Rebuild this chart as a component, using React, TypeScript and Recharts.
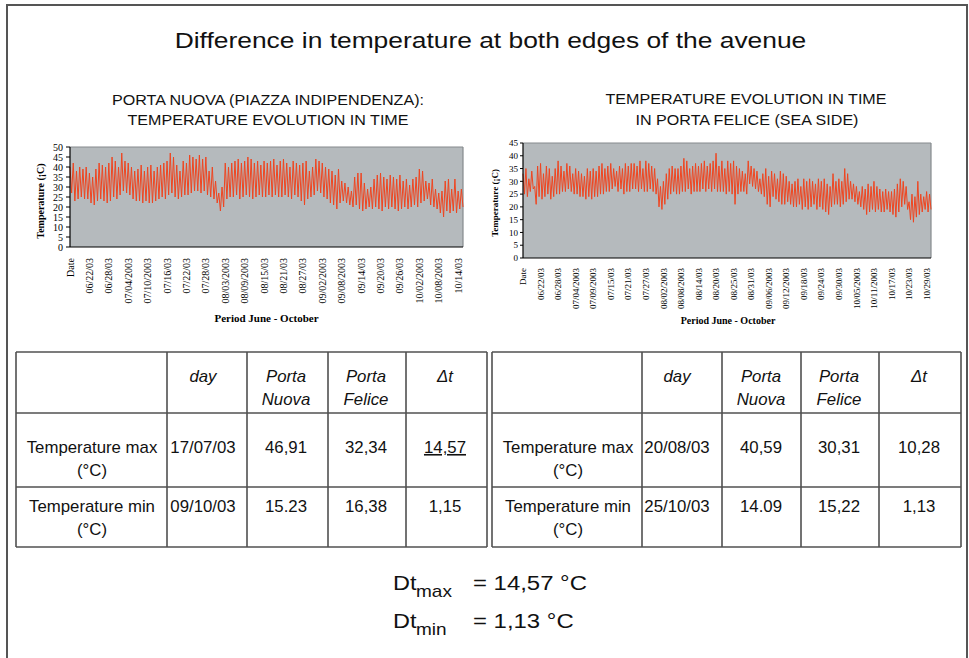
import React from 'react';
import { LineChart, Line, XAxis, YAxis, CartesianGrid, ReferenceLine } from 'recharts';

// ---------- data ----------
// Porta Nuova: daily maximum and minimum temperatures (°C), 16 Jun -> 15 Oct
const leftMax = [
  40, 42, 38, 40, 39, 40,
  37, 35, 39, 42, 41, 40,
  42, 45, 43, 40, 47, 43,
  42, 40, 38, 39, 41, 38,
  40, 41, 38, 40, 41, 42,
  43, 47, 45, 41, 38, 43,
  42, 46, 45, 44, 46, 44,
  45, 38, 40, 33, 27, 30,
  42, 40, 42, 43, 44, 42,
  43, 45, 44, 42, 43, 41,
  43, 42, 43, 44, 41, 43,
  44, 42, 40, 43, 42, 41,
  42, 43, 38, 40, 44, 43,
  42, 40, 39, 38, 36, 39,
  33, 32, 30, 28, 35, 37,
  37, 32, 29, 30, 34, 36,
  37, 35, 34, 36, 35, 34,
  36, 33, 34, 31, 34, 35,
  39, 38, 33, 32, 34, 29,
  27, 28, 33, 34, 29, 34,
  28, 29,
];
const leftMin = [
  27, 23, 24, 25, 24, 24,
  22, 21, 23, 24, 23, 22,
  23, 25, 24, 26, 28, 27,
  26, 24, 23, 23, 22, 23,
  22, 22, 23, 24, 25, 24,
  26, 27, 25, 24, 25, 26,
  26, 27, 28, 28, 27, 28,
  26, 25, 24, 22, 18, 20,
  24, 25, 25, 26, 24, 25,
  26, 25, 24, 25, 26, 25,
  25, 26, 25, 26, 25, 25,
  26, 25, 24, 26, 25, 23,
  21, 24, 25, 26, 28, 27,
  25, 24, 22, 21, 19, 22,
  23, 22, 21, 20, 21, 19,
  18, 19, 20, 19, 20, 19,
  18, 20, 19, 20, 19, 18,
  19, 20, 19, 20, 21, 20,
  22, 23, 24, 21, 20, 19,
  17, 15, 18, 17, 18, 17,
  19, 20,
];

// Porta Felice: daily maximum and minimum temperatures (°C), 16 Jun -> 2 Nov
const rightMax = [
  33, 35, 31, 34, 28, 36,
  37, 33, 36, 35, 32, 35,
  38, 36, 34, 37, 36, 33,
  35, 34, 33, 32, 35, 34,
  35, 34, 36, 37, 35, 36,
  37, 35, 34, 36, 35, 37,
  36, 37, 37, 36, 38, 35,
  38, 37, 36, 35, 31, 28,
  30, 33, 35, 36, 35, 35,
  36, 39, 38, 35, 36, 37,
  36, 37, 38, 36, 37, 38,
  41, 36, 38, 35, 38, 37,
  38, 36, 35, 34, 33, 38,
  36, 35, 34, 31, 33, 35,
  32, 34, 33, 31, 34, 33,
  32, 30, 29, 30, 31, 28,
  31, 30, 31, 30, 29, 31,
  30, 31, 29, 28, 33, 30,
  31, 30, 35, 33, 30, 29,
  28, 26, 28, 27, 29, 28,
  30, 28, 27, 26, 27, 26,
  26, 27, 29, 31, 30, 28,
  22, 25, 24, 30, 25, 24,
  26, 25,
];
const rightMin = [
  25, 24, 26, 27, 21, 24,
  23, 24, 25, 23, 24, 25,
  25, 26, 26, 27, 26, 25,
  25, 24, 24, 23, 24, 23,
  24, 24, 25, 25, 26, 26,
  27, 28, 26, 27, 25, 26,
  26, 27, 27, 26, 27, 26,
  26, 27, 26, 25, 20, 19,
  21, 23, 25, 26, 25, 25,
  26, 26, 27, 25, 26, 26,
  26, 27, 26, 27, 26, 27,
  26, 26, 26, 25, 26, 25,
  21, 25, 26, 26, 25, 29,
  28, 27, 26, 25, 24, 21,
  20, 24, 23, 22, 21, 21,
  22, 21, 20, 20, 21, 19,
  20, 19, 20, 21, 19, 20,
  19, 18, 17, 20, 21, 21,
  20, 21, 22, 23, 23, 22,
  21, 20, 19, 17, 18, 19,
  18, 19, 18, 18, 19, 18,
  17, 16, 18, 20, 21, 19,
  15, 14, 16, 17, 18, 19,
  18, 19,
];

const leftDateLabels = [
  'Date', '06/22/03', '06/28/03', '07/04/2003', '07/10/2003', '07/16/03', '07/22/03',
  '07/28/03', '08/03/2003', '08/09/2003', '08/15/03', '08/21/03', '08/27/03',
  '09/02/2003', '09/08/2003', '09/14/03', '09/20/03', '09/26/03', '10/02/2003',
  '10/08/2003', '10/14/03',
];
const rightDateLabels = [
  'Date', '06/22/03', '06/28/03', '07/04/2003', '07/09/2003', '07/15/03', '07/21/03',
  '07/27/03', '08/02/2003', '08/08/2003', '08/14/03', '08/20/03', '08/25/03', '08/31/03',
  '09/06/2003', '09/12/2003', '09/18/03', '09/24/03', '09/30/03', '10/05/2003',
  '10/11/2003', '10/17/03', '10/23/03', '10/29/03',
];
const leftYTicks = [0, 5, 10, 15, 20, 25, 30, 35, 40, 45, 50];
const rightYTicks = [0, 5, 10, 15, 20, 25, 30, 35, 40, 45];

const headerCells = [[''], ['day'], ['Porta', 'Nuova'], ['Porta', 'Felice'], ['Δt']];
const rowLabels = ['Temperature max', 'Temperature min'];
const leftTableRows = [
  ['17/07/03', '46,91', '32,34', '14,57'],
  ['09/10/03', '15.23', '16,38', '1,15'],
];
const rightTableRows = [
  ['20/08/03', '40,59', '30,31', '10,28'],
  ['25/10/03', '14.09', '15,22', '1,13'],
];
const summaryLines = [
  { sub: 'max', value: '= 14,57 °C' },
  { sub: 'min', value: '= 1,13 °C' },
];

// ---------- helpers ----------
const SANS = "'Liberation Sans', Arial, Helvetica, sans-serif";
const SERIF = "'Liberation Serif', 'Times New Roman', serif";
const POINTS_PER_DAY = 2;
const DAYS_PER_LABEL = 6;
const LABEL_STEP = POINTS_PER_DAY * DAYS_PER_LABEL;

function buildSeries(maxs: number[], mins: number[]) {
  const out: { i: number; v: number }[] = [];
  maxs.forEach((m, d) => {
    out.push({ i: d * POINTS_PER_DAY, v: m });
    out.push({ i: d * POINTS_PER_DAY + 1, v: mins[d] });
  });
  return out;
}

const leftData = buildSeries(leftMax, leftMin);
const rightData = buildSeries(rightMax, rightMin);
const leftXTicks = leftDateLabels.map((_, k) => k * LABEL_STEP);
const rightXTicks = rightDateLabels.map((_, k) => k * LABEL_STEP);

function makeDateTick(labels: string[], fontSize: number) {
  return (props: any) => {
    const { x, y, payload } = props;
    const label = labels[Math.round(payload.value / LABEL_STEP)] ?? '';
    return (
      <text
        transform={`translate(${x},${y}) rotate(-90)`}
        textAnchor="end"
        dy="0.35em"
        fontSize={fontSize}
        fontFamily={SERIF}
        fill="#000"
      >
        {label}
      </text>
    );
  };
}

function makeVerticalTitle(text: string, cx: number, cy: number, fontSize: number) {
  return () => (
    <text
      transform={`translate(${cx},${cy}) rotate(-90)`}
      textAnchor="middle"
      dy="0.35em"
      fontSize={fontSize}
      fontFamily={SERIF}
      fontWeight="bold"
      fill="#000"
    >
      {text}
    </text>
  );
}

function makeHorizontalTitle(text: string, cx: number, baseline: number, fontSize: number) {
  return () => (
    <text x={cx} y={baseline} textAnchor="middle" fontSize={fontSize} fontFamily={SERIF} fontWeight="bold" fill="#000">
      {text}
    </text>
  );
}

function ST(props: {
  x: number; y: number; size: number; sx?: number; anchor?: 'start' | 'middle' | 'end';
  italic?: boolean; underline?: boolean; children: React.ReactNode;
}) {
  const { x, y, size, sx = 1, anchor = 'middle', italic, underline, children } = props;
  return (
    <text
      x={x}
      y={y}
      fontSize={size}
      fontFamily={SANS}
      fontStyle={italic ? 'italic' : 'normal'}
      textAnchor={anchor}
      fill="#111"
      style={underline ? { textDecoration: 'underline' } : undefined}
      transform={sx !== 1 ? `translate(${x} 0) scale(${sx} 1) translate(${-x} 0)` : undefined}
    >
      {children}
    </text>
  );
}

function TempChart(props: {
  data: { i: number; v: number }[]; ticksX: number[]; labels: string[]; yMax: number; yTicks: number[];
  width: number; height: number; margin: { top: number; right: number; bottom: number; left: number };
  yAxisWidth: number; xAxisHeight: number; tickFont: number; dateFont: number; titleFont: number;
  yTitleFont: number; yTitleCenter: [number, number]; xTitlePos: [number, number];
  dateGap: number; yTickSize: number; yTickMargin: number;
}) {
  const p = props;
  const lastIndex = p.data.length - 1;
  return (
    <LineChart width={p.width} height={p.height} data={p.data} margin={p.margin}>
      <CartesianGrid fill="#b5babd" horizontal={false} vertical={false} />
      <XAxis
        type="number"
        dataKey="i"
        domain={[0, lastIndex]}
        ticks={p.ticksX}
        interval={0}
        height={p.xAxisHeight}
        tickLine={false}
        tickSize={0}
        tickMargin={p.dateGap}
        axisLine={{ stroke: '#000', strokeWidth: 1.2 }}
        tick={makeDateTick(p.labels, p.dateFont)}
        label={{ content: makeHorizontalTitle('Period June - October', p.xTitlePos[0], p.xTitlePos[1], p.titleFont) }}
      />
      <YAxis
        type="number"
        domain={[0, p.yMax]}
        ticks={p.yTicks}
        interval={0}
        width={p.yAxisWidth}
        tickSize={p.yTickSize}
        tickMargin={p.yTickMargin}
        axisLine={{ stroke: '#000', strokeWidth: 1.2 }}
        tickLine={{ stroke: '#000' }}
        tick={{ fontSize: p.tickFont, fontFamily: SERIF, fill: '#000' }}
        label={{ content: makeVerticalTitle('Temperature (¡C)', p.yTitleCenter[0], p.yTitleCenter[1], p.yTitleFont) }}
      />
      <ReferenceLine y={p.yMax} stroke="#858a8d" strokeWidth={1.2} />
      <ReferenceLine x={lastIndex} stroke="#858a8d" strokeWidth={1.2} />
      <Line
        type="linear"
        dataKey="v"
        stroke="#ef4520"
        strokeWidth={1}
        dot={false}
        activeDot={false}
        isAnimationActive={false}
      />
    </LineChart>
  );
}

function Table(props: { colX: number[]; centers: number[]; rows: string[][] }) {
  const { colX, centers, rows } = props;
  const rowY = [352, 413, 487, 547];
  const left = colX[0];
  const right = colX[colX.length - 1];
  const stroke = '#505050';
  const fs = 16;
  const sx = 1.05;
  return (
    <g>
      {rowY.map((y, k) => (
        <line key={'h' + k} x1={left} x2={right} y1={y} y2={y} stroke={stroke} strokeWidth={1.6} />
      ))}
      {colX.map((x, k) => (
        <line key={'v' + k} x1={x} x2={x} y1={rowY[0]} y2={rowY[3]} stroke={stroke} strokeWidth={1.6} />
      ))}
      {headerCells.map((lines, c) =>
        lines.map((t, l) => (
          <ST key={'hd' + c + l} x={centers[c]} y={382 + l * 23} size={fs} sx={sx} italic>
            {t}
          </ST>
        ))
      )}
      {rowLabels.map((lbl, r) => {
        const base = r === 0 ? 453 : 512;
        return (
          <g key={'r' + r}>
            <ST x={centers[0]} y={base} size={fs} sx={sx}>{lbl}</ST>
            <ST x={centers[0]} y={base + 23} size={fs} sx={sx}>(°C)</ST>
            {rows[r].map((v, c) => (
              <ST
                key={'c' + c}
                x={centers[c + 1]}
                y={base}
                size={fs}
                sx={sx}
                underline={r === 0 && c === 3 && v === '14,57'}
              >
                {v}
              </ST>
            ))}
          </g>
        );
      })}
    </g>
  );
}

export default function App() {
  return (
    <div
      style={{
        position: 'absolute',
        left: 0,
        top: 0,
        width: 969,
        height: 658,
        background: '#fff',
        overflow: 'hidden',
      }}
    >
      <svg width={969} height={658} style={{ position: 'absolute', left: 0, top: 0 }}>
        <path d="M7,670 V5 H967 V670" fill="none" stroke="#555" strokeWidth={2} />
        <ST x={490.5} y={48} size={22} sx={1.2}>Difference in temperature at both edges of the avenue</ST>

        <ST x={268} y={105} size={14} sx={1.15}>PORTA NUOVA (PIAZZA INDIPENDENZA):</ST>
        <ST x={268} y={125} size={14} sx={1.15}>TEMPERATURE EVOLUTION IN TIME</ST>
        <ST x={746} y={104} size={14} sx={1.15}>TEMPERATURE EVOLUTION IN TIME</ST>
        <ST x={747} y={125} size={14} sx={1.15}>IN PORTA FELICE (SEA SIDE)</ST>

        <Table colX={[16, 167, 247, 328, 406, 487]} centers={[92, 203, 286, 366, 445]} rows={leftTableRows} />
        <Table colX={[492, 642, 722, 801, 879, 961]} centers={[568, 677, 761, 839, 919]} rows={rightTableRows} />

        {summaryLines.map((s, k) => {
          const base = 590 + k * 38;
          return (
            <g key={'s' + k}>
              <ST x={393} y={base} size={21} sx={1.12} anchor="start">Dt</ST>
              <ST x={416} y={base + 7} size={17} sx={1.12} anchor="start">{s.sub}</ST>
              <ST x={473} y={base} size={21} sx={1.14} anchor="start">{s.value}</ST>
            </g>
          );
        })}
      </svg>

      <div style={{ position: 'absolute', left: 0, top: 140 }}>
        <TempChart
          data={leftData}
          ticksX={leftXTicks}
          labels={leftDateLabels}
          yMax={50}
          yTicks={leftYTicks}
          width={480}
          height={190}
          margin={{ top: 7, right: 17, bottom: 0, left: 0 }}
          yAxisWidth={70}
          xAxisHeight={83}
          tickFont={10}
          dateFont={10}
          titleFont={11}
          yTitleFont={10}
          yTitleCenter={[40, 61]}
          xTitlePos={[266.5, 181.5]}
          dateGap={11}
          yTickSize={4}
          yTickMargin={3}
        />
      </div>

      <div style={{ position: 'absolute', left: 455, top: 135 }}>
        <TempChart
          data={rightData}
          ticksX={rightXTicks}
          labels={rightDateLabels}
          yMax={45}
          yTicks={rightYTicks}
          width={490}
          height={195}
          margin={{ top: 8, right: 14, bottom: 0, left: 0 }}
          yAxisWidth={68}
          xAxisHeight={72}
          tickFont={9}
          dateFont={9}
          titleFont={10}
          yTitleFont={9}
          yTitleCenter={[40, 68]}
          xTitlePos={[273, 188.5]}
          dateGap={10}
          yTickSize={3}
          yTickMargin={2}
        />
      </div>
    </div>
  );
}
